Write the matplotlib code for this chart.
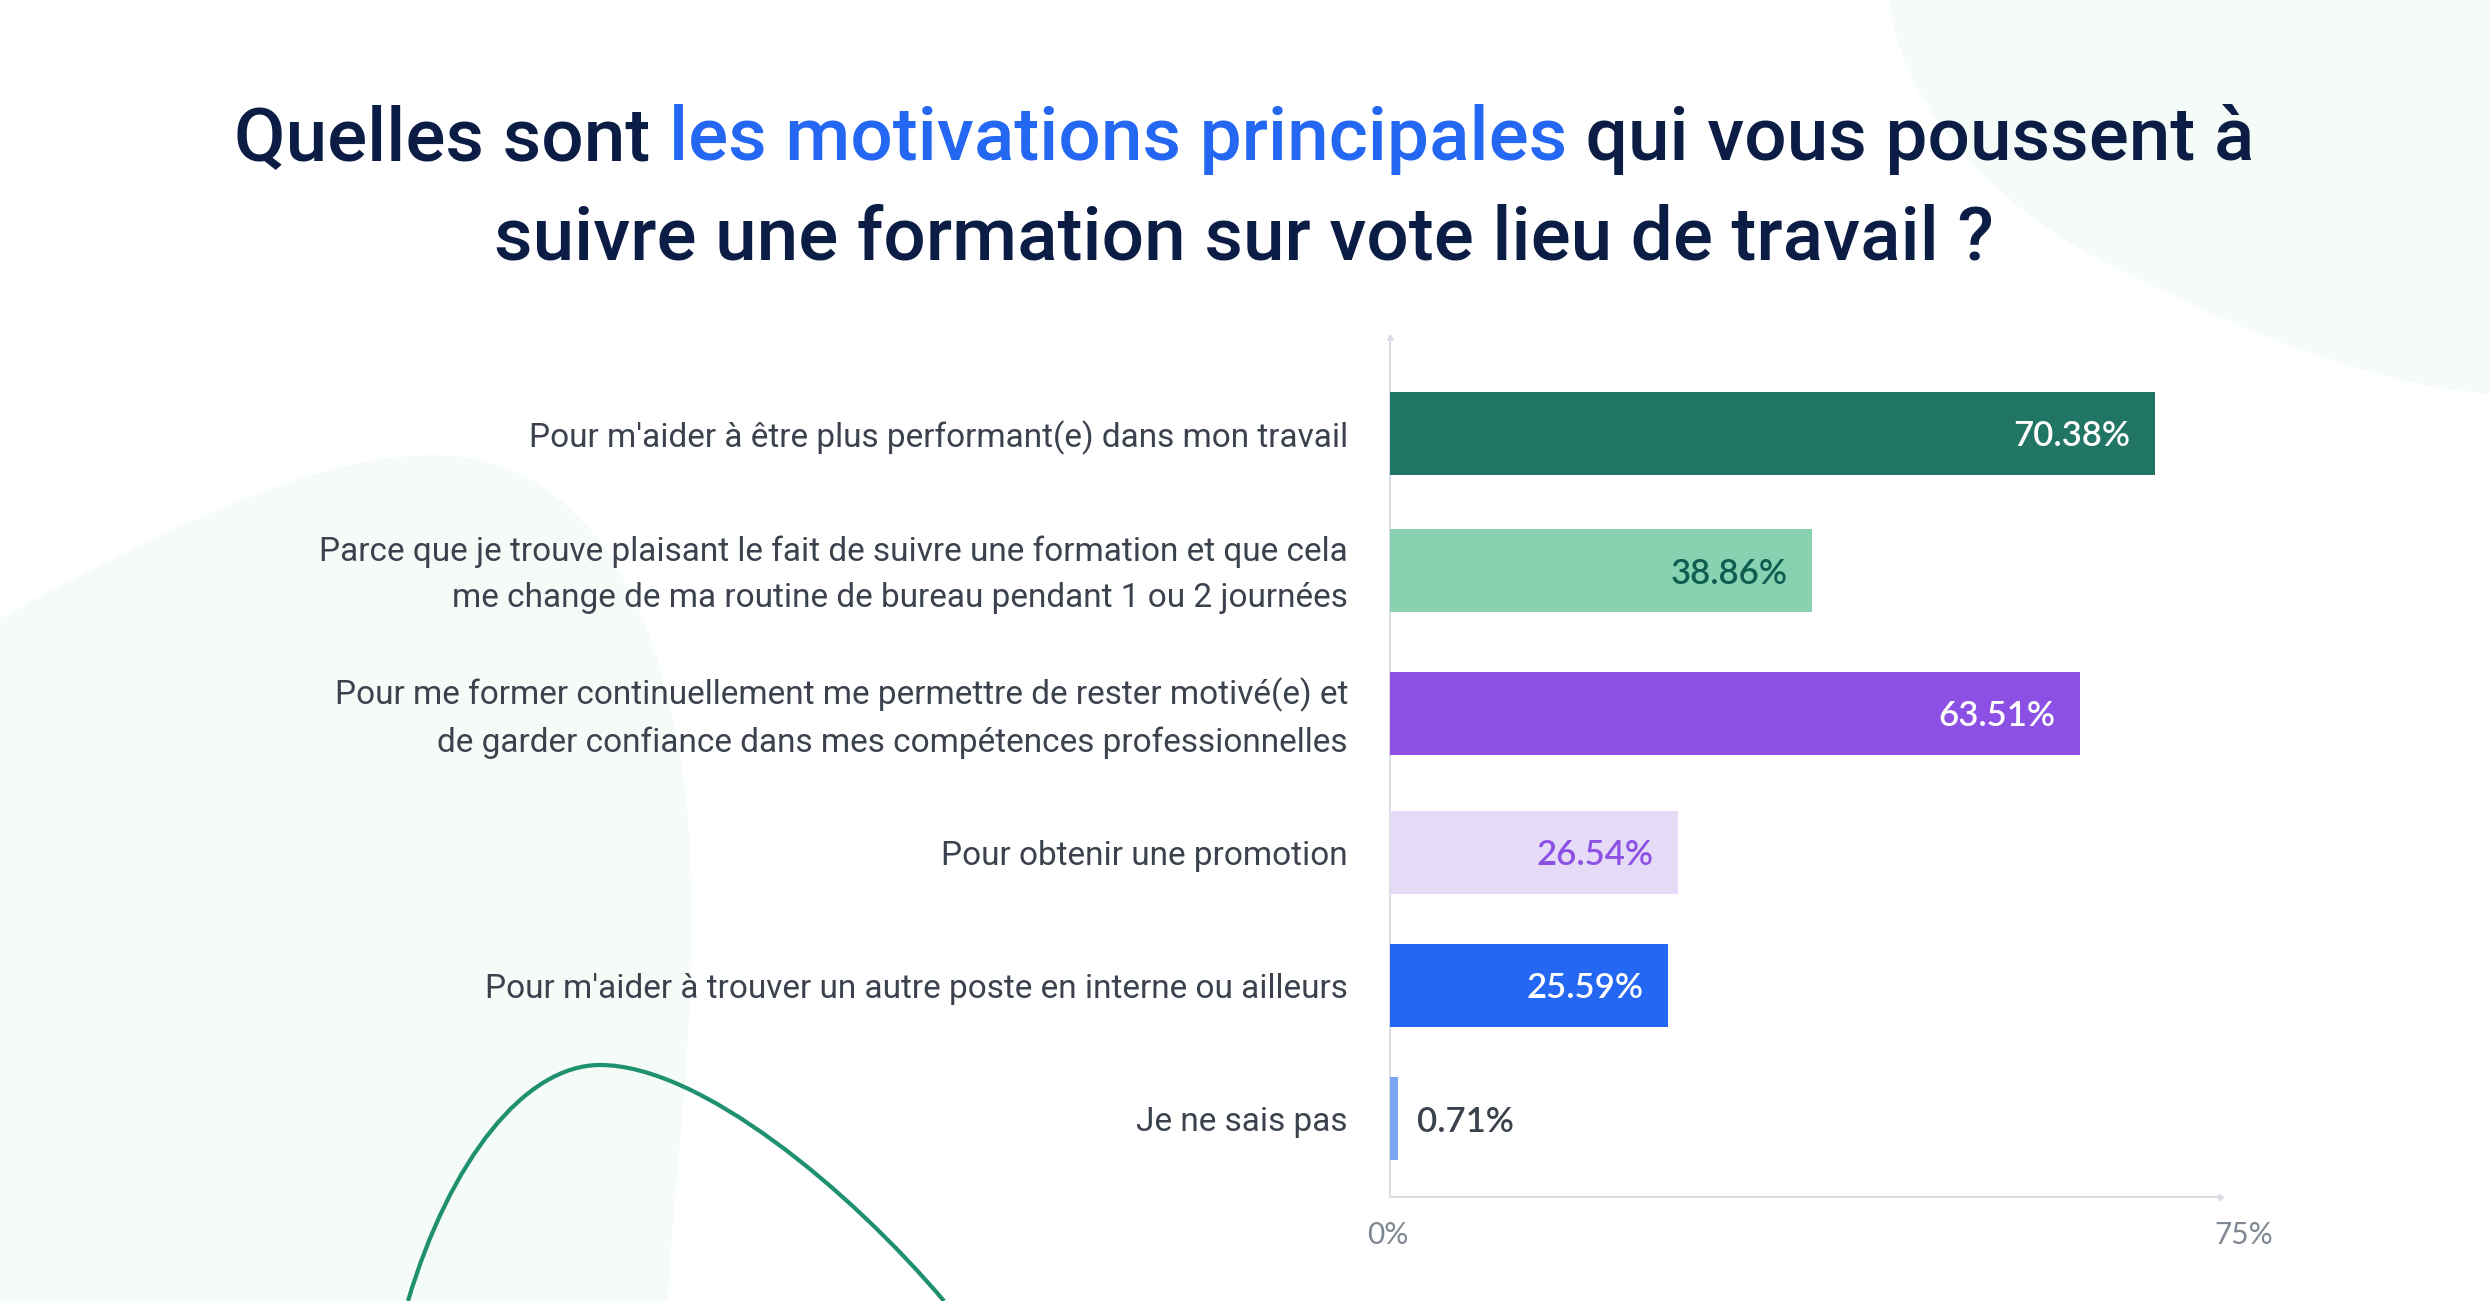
import matplotlib
matplotlib.use("Agg")
import matplotlib.pyplot as plt
from matplotlib.path import Path
from matplotlib.patches import PathPatch
from matplotlib.transforms import ScaledTranslation

W, H = 2490, 1301

# ---- data ----
categories = [
    "Pour m'aider à être plus performant(e) dans mon travail",
    "Parce que je trouve plaisant le fait de suivre une formation et que cela\nme change de ma routine de bureau pendant 1 ou 2 journées",
    "Pour me former continuellement me permettre de rester motivé(e) et\nde garder confiance dans mes compétences professionnelles",
    "Pour obtenir une promotion",
    "Pour m'aider à trouver un autre poste en interne ou ailleurs",
    "Je ne sais pas",
]
values = [70.38, 38.86, 63.51, 26.54, 25.59, 0.71]
value_labels = ["70.38%", "38.86%", "63.51%", "26.54%", "25.59%", "0.71%"]
tick_values = [0, 75]
tick_labels = ["0%", "75%"]

# ---- styles / layout ----
bar_colors = ["#217565", "#89D2B1", "#8C50E4", "#E6DBF7", "#2467F2", "#7AA5F0"]
label_colors = ["#FFFFFF", "#0F5C50", "#FFFFFF", "#8C50E4", "#FFFFFF", "#3B424E"]
row_centers = [433.5, 570.5, 713.5, 852, 985.5, 1118.5]
BAR_H = 83
AX_L, AX_R, AX_T, AX_B = 1390, 2220, 338, 1197
X_MAX = (AX_R - AX_L) / 10.87
TXT = "#3B424E"
NAVY = "#0B1C45"
BLUE = "#2467F2"
TITLE_FONT = "Roboto"
LABEL_FONT = "Roboto"
VALUE_FONT = "Lato"
px = 0.72

fig = plt.figure(figsize=(W / 100, H / 100), dpi=100, facecolor="white")

# decorative background, in pixel coordinates
bg = fig.add_axes([0, 0, 1, 1], zorder=0)
bg.set_xlim(0, W)
bg.set_ylim(H, 0)
bg.axis("off")
M, C, L, Z = Path.MOVETO, Path.CURVE4, Path.LINETO, Path.CLOSEPOLY
BLOB = "#F5FCF8"
tr = [(1890, 0), (1900, 110), (2000, 210), (2110, 265), (2240, 330), (2370, 385), (2490, 394), (2490, 0), (1890, 0)]
bg.add_patch(PathPatch(Path(tr, [M, C, C, C, C, C, C, L, L]), fc=BLOB, ec="none"))
bl = [(0, 618), (140, 545), (300, 455), (434, 455), (600, 455), (692, 640), (692, 917),
      (692, 1060), (672, 1200), (668, 1301), (0, 1301), (0, 618)]
bg.add_patch(PathPatch(Path(bl, [M, C, C, C, C, C, C, C, C, C, L, L]), fc=BLOB, ec="none"))
cv = [(408, 1301), (450, 1160), (525, 1065), (600, 1065), (700, 1065), (850, 1190), (944, 1301)]
bg.add_patch(PathPatch(Path(cv, [M, C, C, C, C, C, C]), fc="none", ec="#1F9070", lw=4.2 * px, capstyle="butt"))

# title, laid out piece by piece
TS = 53.8
fig.canvas.draw()
rend = fig.canvas.get_renderer()
def ft(x, y, s, color, ha="left"):
    return fig.text(x / W, 1 - y / H, s, color=color, fontsize=TS, family=TITLE_FONT,
                    fontweight="medium", ha=ha, va="baseline")
pieces = [("Quelles sont ", NAVY), ("les motivations principales", BLUE), (" qui vous poussent à", NAVY)]
t_objs = [ft(0, 160, s.replace(" ", "\u00a0"), c) for s, c in pieces]
ws = [t.get_window_extent(rend).width for t in t_objs]
x = (235 + 2253) / 2 - sum(ws) / 2
for t, w in zip(t_objs, ws):
    t.set_x(x / W)
    x += w
ft(1244, 259, "suivre une formation sur vote lieu de travail ?", NAVY, ha="center")

# chart
ax = fig.add_axes([AX_L / W, 1 - AX_B / H, (AX_R - AX_L) / W, (AX_B - AX_T) / H], zorder=2)
ax.patch.set_alpha(0)
ax.set_xlim(0, X_MAX)
ax.set_ylim(AX_B, AX_T)
ax.barh(row_centers, values, height=BAR_H, color=bar_colors, zorder=3)
for s in ("top", "right"):
    ax.spines[s].set_visible(False)
for s in ("left", "bottom"):
    ax.spines[s].set_color("#DADDE3")
    ax.spines[s].set_linewidth(2 * px)
ax.plot([1], [0], marker=(3, 0, -90), ms=5, color="#DADDE3", transform=ax.transAxes, clip_on=False)
ax.plot([0], [1], marker=(3, 0, 0), ms=5, color="#DADDE3", transform=ax.transAxes, clip_on=False)

ax.set_yticks(row_centers)
ax.set_yticklabels(categories, fontsize=24, family=LABEL_FONT, color=TXT, linespacing=1.56, ha="right")
ax.tick_params(axis="y", length=0, pad=42 * px)
for lab in ax.get_yticklabels():
    if "\n" in lab.get_text():
        lab.set_transform(lab.get_transform() + ScaledTranslation(0, 6 / 100, fig.dpi_scale_trans))
ax.set_xticks(tick_values)
ax.set_xticklabels(tick_labels, fontsize=21.5, family=VALUE_FONT, color="#7F8793")
ax.tick_params(axis="x", length=0, pad=24 * px)
shifts = [-2, 39]
for lab, d in zip(ax.get_xticklabels(), shifts):
    lab.set_transform(lab.get_transform() + ScaledTranslation(d / 100, 0, fig.dpi_scale_trans))

for v, y, s, c in zip(values, row_centers, value_labels, label_colors):
    if v > 5:
        ax.annotate(s, (v, y), xytext=(-25 * px, 0), textcoords="offset points", ha="right", va="center_baseline",
                    color=c, fontsize=25, family=VALUE_FONT, fontweight="semibold", zorder=4)
    else:
        ax.annotate(s, (v, y), xytext=(19 * px, 0), textcoords="offset points", ha="left", va="center_baseline",
                    color=c, fontsize=25, family=VALUE_FONT, fontweight="semibold", zorder=4)

fig.savefig("out.png", dpi=100)
